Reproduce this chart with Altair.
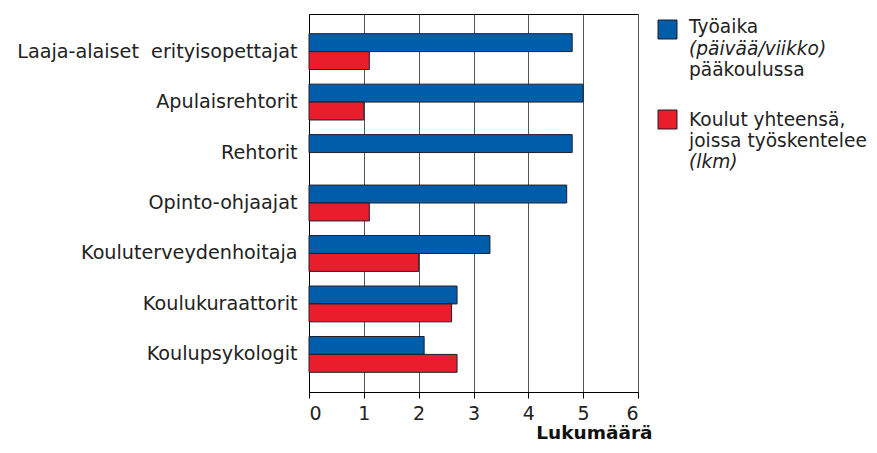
import altair as alt
import pandas as pd

categories = [
    "Laaja-alaiset\u00a0 erityisopettajat",
    "Apulaisrehtorit",
    "Rehtorit",
    "Opinto-ohjaajat",
    "Kouluterveydenhoitaja",
    "Koulukuraattorit",
    "Koulupsykologit",
]
tyoaika = [4.8, 5.0, 4.8, 4.7, 3.3, 2.7, 2.1]
koulut = [1.1, 1.0, 0.0, 1.1, 2.0, 2.6, 2.7]
series_names = ["Työaika", "Koulut"]
colors = ["#005DAA", "#EA1D2C"]
ticks = [0, 1, 2, 3, 4, 5, 6]
legend_blue = ["Työaika", "(päivää/viikko)", "pääkoulussa"]
legend_red = ["Koulut yhteensä,", "joissa työskentelee", "(lkm)"]

rows = []
for c, a, b in zip(categories, tyoaika, koulut):
    rows.append({"cat": c, "series": series_names[0], "value": a})
    rows.append({"cat": c, "series": series_names[1], "value": b})
df = pd.DataFrame(rows)

FONT = "DejaVu Sans"
FS = 19.2
LFS = 18.6

bars = alt.Chart(df).transform_filter("datum.value > 0").mark_bar(
    stroke="#1f1f2a", strokeWidth=1
).encode(
    x=alt.X("value:Q",
            scale=alt.Scale(domain=[0, 6], nice=False),
            axis=alt.Axis(values=ticks, grid=True, gridColor="#555555", gridWidth=1,
                          domainColor="#000000", tickColor="#000000", tickSize=6,
                          labelFontSize=19, labelColor="#222222", labelPadding=6,
                          labelFont=FONT, format="d",
                          title="Lukumäärä", titleFont=FONT, titleFontSize=18.5,
                          titleFontWeight="bold", titleColor="#111111",
                          titleAlign="right", titleAnchor="end", titleBaseline="middle",
                          titleX=343, titleY=40)),
    y=alt.Y("cat:N", sort=categories,
            scale=alt.Scale(paddingInner=0.29, paddingOuter=0.39),
            axis=alt.Axis(title=None, ticks=False, domainColor="#000000",
                          labelFontSize=FS, labelColor="#222222", labelFont=FONT,
                          labelPadding=12, labelLimit=400)),
    yOffset=alt.YOffset("series:N", sort=series_names,
                        scale=alt.Scale(paddingInner=0, paddingOuter=0)),
    color=alt.Color("series:N", scale=alt.Scale(domain=series_names, range=colors),
                    legend=None),
)

layers = [bars]
legend_df = pd.DataFrame({"d": [0]})
sq_blue = alt.Chart(legend_df).mark_rect(color=colors[0], stroke="#1f1f2a", strokeWidth=1).encode(
    x=alt.value(349), x2=alt.value(368), y=alt.value(6), y2=alt.value(25))
sq_red = alt.Chart(legend_df).mark_rect(color=colors[1], stroke="#1f1f2a", strokeWidth=1).encode(
    x=alt.value(349), x2=alt.value(368), y=alt.value(96), y2=alt.value(115))
layers += [sq_blue, sq_red]

ys_blue = [13, 34.5, 56]
ys_red = [106, 127, 148]
styles_blue = ["normal", "italic", "normal"]
styles_red = ["normal", "normal", "italic"]
for txt, yy, st in list(zip(legend_blue, ys_blue, styles_blue)) + list(zip(legend_red, ys_red, styles_red)):
    layers.append(
        alt.Chart(legend_df).mark_text(
            text=txt, align="left", baseline="middle", font=FONT, fontSize=LFS,
            fontStyle=st, color="#222222"
        ).encode(x=alt.value(380), y=alt.value(yy))
    )

chart = alt.layer(*layers).properties(
    width=329, height=378,
    autosize=alt.AutoSizeParams(type="none"),
    padding={"left": 301, "top": 6, "right": 230, "bottom": 52},
    background="white",
).configure_view(stroke="#000000", strokeWidth=1)

chart.save("out.html", embed_options={"renderer": "svg", "actions": False})
